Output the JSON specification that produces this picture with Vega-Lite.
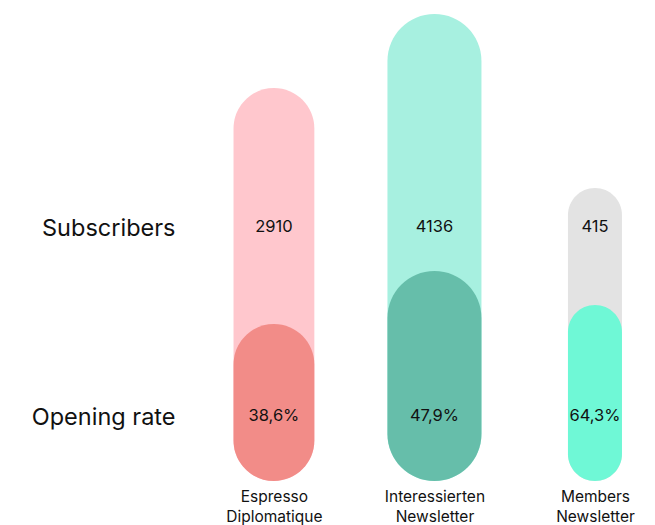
{
  "$schema": "https://vega.github.io/schema/vega-lite/v6.json",
  "autosize": {"type": "none"},
  "padding": {"left": 185, "top": 0, "right": 0, "bottom": 44},
  "width": 470,
  "height": 481,
  "background": "white",
  "config": {
    "view": {"stroke": null},
    "font": "Inter",
    "axis": {"grid": false, "domain": false, "ticks": false, "labelColor": "#111111", "labelFont": "Inter"}
  },
  "data": {
    "values": [
      {"newsletter": "Espresso Diplomatique", "subscribers": 2910, "rate": "38,6%", "barLength": 393, "rateLength": 157},
      {"newsletter": "Interessierten Newsletter", "subscribers": 4136, "rate": "47,9%", "barLength": 467, "rateLength": 210},
      {"newsletter": "Members Newsletter", "subscribers": 415, "rate": "64,3%", "barLength": 293, "rateLength": 176}
    ]
  },
  "encoding": {
    "x": {
      "field": "newsletter",
      "type": "nominal",
      "sort": null,
      "scale": {"type": "point", "padding": 0.464, "align": 0.597},
      "axis": {"title": null, "labelAngle": 0, "labelFontSize": 15.5, "labelPadding": 8, "labelLineHeight": 20, "labelExpr": "split(datum.label, ' ')"}
    }
  },
  "layer": [
    {
      "encoding": {
        "y": {"type": "quantitative", "scale": {"domain": [0, 481], "nice": false, "zero": true}, "axis": null},
        "size": {"field": "subscribers", "type": "quantitative", "scale": {"type": "linear", "domain": [415, 4136], "range": [54, 94], "zero": false}, "legend": null}
      },
      "layer": [
        {
          "mark": {"type": "bar", "cornerRadius": 60},
          "encoding": {
            "y": {"field": "barLength", "type": "quantitative", "scale": {"domain": [0, 481], "nice": false}, "axis": null},
            "color": {"field": "newsletter", "type": "nominal", "sort": null, "scale": {"range": ["#FFC7CD", "#A7F0E0", "#E3E3E3"]}, "legend": null}
          }
        },
        {
          "mark": {"type": "bar", "cornerRadius": 60},
          "encoding": {
            "y": {"field": "rateLength", "type": "quantitative", "scale": {"domain": [0, 481], "nice": false}, "axis": null},
            "color": {"field": "newsletter", "type": "nominal", "sort": null, "scale": {"range": ["#F28C88", "#66BEAA", "#6FF8D6"]}, "legend": null}
          }
        }
      ],
      "resolve": {"scale": {"color": "independent"}}
    },
    {
      "layer": [
        {
          "mark": {"type": "text", "fontSize": 16.5, "color": "#111111", "font": "Inter"},
          "encoding": {
            "y": {"datum": "Subscribers", "type": "nominal", "scale": {"type": "point", "domain": ["Subscribers", "Opening rate"], "padding": 0.7725, "align": 0.777}, "axis": {"title": null, "orient": "left", "labelFontSize": 23.5, "labelPadding": 10, "labelColor": "#111111", "labelBaseline": "middle", "labelOffset": 2}},
            "text": {"field": "subscribers", "type": "quantitative", "format": "d"}
          }
        },
        {
          "mark": {"type": "text", "fontSize": 16.5, "color": "#111111", "font": "Inter"},
          "encoding": {
            "y": {"datum": "Opening rate", "type": "nominal"},
            "text": {"field": "rate", "type": "nominal"}
          }
        }
      ]
    }
  ],
  "resolve": {"scale": {"y": "independent", "size": "independent"}}
}
